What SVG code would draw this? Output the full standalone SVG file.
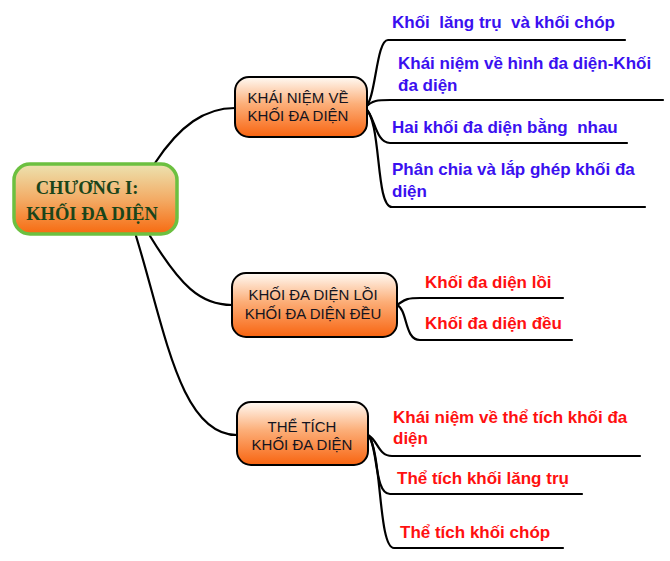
<svg xmlns="http://www.w3.org/2000/svg" width="670" height="561" viewBox="0 0 670 561">
<defs>
<linearGradient id="gMain" x1="0" y1="0" x2="0" y2="1">
<stop offset="0" stop-color="#ece3b0"/>
<stop offset="0.5" stop-color="#f3ac66"/>
<stop offset="1" stop-color="#f76a10"/>
</linearGradient>
<linearGradient id="gSub" x1="0" y1="0" x2="0" y2="1">
<stop offset="0" stop-color="#fffaf4"/>
<stop offset="0.45" stop-color="#fcae78"/>
<stop offset="1" stop-color="#f86410"/>
</linearGradient>
</defs>
<style>
.conn{fill:none;stroke:#000;stroke-width:2.2;stroke-linecap:round}
.main{fill:url(#gMain);stroke:#6cc040;stroke-width:3.5}
.sub{fill:url(#gSub);stroke:#000;stroke-width:2}
.mt{font-family:"Liberation Serif","Times New Roman",serif;font-weight:bold;font-size:18.5px;fill:#1a451a;text-anchor:middle}
.st{font-family:"Liberation Sans",Arial,sans-serif;font-size:15px;fill:#141420;text-anchor:middle}
.blue{font-family:"Liberation Sans",Arial,sans-serif;font-weight:bold;font-size:17px;fill:#3a10f0;white-space:pre}
.red{font-family:"Liberation Sans",Arial,sans-serif;font-weight:bold;font-size:17px;fill:#ff1010;white-space:pre}
</style>
<g id="connectors">
<path class="conn" d="M155,163 C180,125 205,108 235,108"/>
<path class="conn" d="M150,236 C180,285 200,305 232,305"/>
<path class="conn" d="M136,236 C165,330 180,435 237,435"/>
<path class="conn" d="M365,108 C376,100 376,40 388,40 L625,40"/>
<path class="conn" d="M365,108 C372,100 378,100 390,100 L663,100"/>
<path class="conn" d="M365,108 C375,115 375,143 390,143 L627,143"/>
<path class="conn" d="M365,108 C382,120 375,207 392,207 L645,207"/>
<path class="conn" d="M397,305 C405,300 405,298 420,298 L563,298"/>
<path class="conn" d="M397,305 C408,310 404,340 420,340 L572,340"/>
<path class="conn" d="M368,435 C378,440 378,456 392,456 L640,456"/>
<path class="conn" d="M368,435 C378,445 374,494 390,494 L582,494"/>
<path class="conn" d="M368,435 C382,450 378,548 394,548 L563,548"/>
</g>
<g id="n-main">
<rect class="main" x="14" y="164" width="163" height="70" rx="16"/>
<text class="mt" x="87" y="194">CHƯƠNG I:</text>
<text class="mt" x="92" y="220">KHỐI ĐA DIỆN</text>
</g>
<g id="n-khainiem">
<rect class="sub" x="235" y="77" width="132" height="60" rx="14"/>
<text class="st" x="298" y="103">KHÁI NIỆM VỀ</text>
<text class="st" x="298" y="121">KHỐI ĐA DIỆN</text>
</g>
<g id="n-loi">
<rect class="sub" x="232" y="273" width="165" height="64" rx="14"/>
<text class="st" x="313" y="300">KHỐI ĐA DIỆN LỒI</text>
<text class="st" x="313" y="319">KHỐI ĐA DIỆN ĐỀU</text>
</g>
<g id="n-thetich">
<rect class="sub" x="237" y="402" width="131" height="63" rx="14"/>
<text class="st" x="302" y="432">THỂ TÍCH</text>
<text class="st" x="302" y="450">KHỐI ĐA DIỆN</text>
</g>
<g id="leaf-1"><text class="blue" x="392" y="28">Khối  lăng trụ  và khối chóp</text></g>
<g id="leaf-2"><text class="blue" x="398" y="69">Khái niệm về hình đa diện-Khối</text><text class="blue" x="398" y="91">đa diện</text></g>
<g id="leaf-3"><text class="blue" x="392" y="133">Hai khối đa diện bằng  nhau</text></g>
<g id="leaf-4"><text class="blue" x="392" y="175">Phân chia và lắp ghép khối đa</text><text class="blue" x="392" y="197">diện</text></g>
<g id="leaf-5"><text class="red" x="425" y="288">Khối đa diện lồi</text></g>
<g id="leaf-6"><text class="red" x="425" y="329">Khối đa diện đều</text></g>
<g id="leaf-7"><text class="red" x="393" y="423">Khái niệm về thể tích khối đa</text><text class="red" x="393" y="444">diện</text></g>
<g id="leaf-8"><text class="red" x="397" y="484">Thể tích khối lăng trụ</text></g>
<g id="leaf-9"><text class="red" x="400" y="538">Thể tích khối chóp</text></g>
</svg>
